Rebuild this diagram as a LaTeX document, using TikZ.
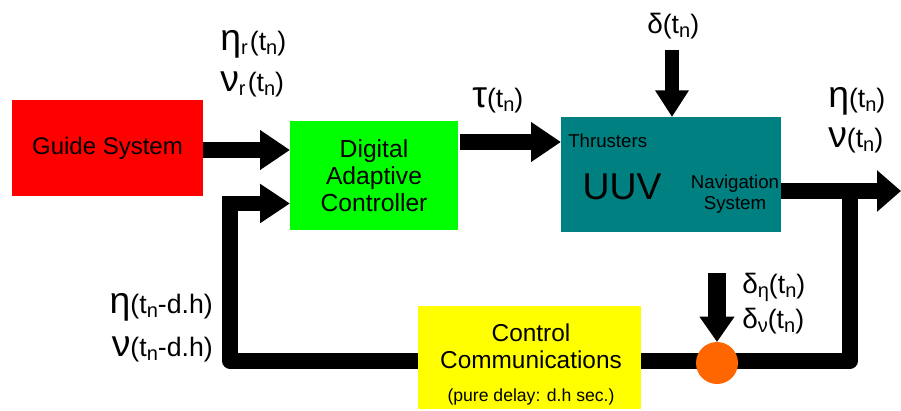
\documentclass[tikz,border=0pt]{standalone}
\usepackage{fontspec}
\setmainfont{Liberation Sans}
\usetikzlibrary{arrows.meta}
\definecolor{boxred}{HTML}{FF0000}
\definecolor{boxgreen}{HTML}{00FF00}
\definecolor{boxteal}{HTML}{008080}
\definecolor{boxyellow}{HTML}{FFFF00}
\definecolor{sumorange}{HTML}{FF6600}
\newcommand\glk[1]{{\fontsize{28}{28}\selectfont #1}}
\newcommand\dlt[1]{{\fontsize{21}{21}\selectfont #1}}
\newcommand\lsub[1]{\raisebox{-3.5pt}{\fontsize{15}{15}\selectfont #1}}
\newcommand\lbl[1]{{\fontsize{20}{20}\selectfont #1}}
\begin{document}
\begin{tikzpicture}[x=0.75pt,y=-0.75pt,
  blk/.style={inner sep=0pt, outer sep=0pt},
  arr/.style={line width=12pt, -{Triangle[length=22.5pt,width=28.5pt]}},
  darr/.style={line width=10pt, -{Triangle[length=20pt,width=24pt]}},
  fb/.style={line width=11.5pt, line join=round},
  fbarr/.style={line width=11.5pt, line cap=rect, -{Triangle[length=22.5pt,width=28pt]}},
  lab/.style={inner sep=0pt}
]
\useasboundingbox (0,0) rectangle (901,411);
% boxes
\node[blk, fill=boxred, minimum width=143.25pt, minimum height=72pt] (guide) at (107.5,148) {\fontsize{18}{18}\selectfont Guide System};
\node[blk, fill=boxgreen, minimum width=126pt, minimum height=81.75pt, align=center, font=\fontsize{18.5}{20.3}\selectfont] (dac) at (374,175.5) {Digital\\Adaptive\\Controller};
\node[blk, fill=boxteal, minimum width=165pt, minimum height=86.25pt] (uuv) at (671,174.5) {};
\node[blk, fill=boxyellow, minimum width=167.25pt, minimum height=77.25pt] (cc) at (529.5,357.5) {};
% texts inside UUV
\node[lab, anchor=west, font=\fontsize{14}{14}\selectfont] (thr) at (568,141) {Thrusters};
\node[lab, font=\fontsize{28}{28}\selectfont] (uuvt) at (622,187) {UUV};
\node[lab, align=center, font=\fontsize{14}{15.75}\selectfont] (nav) at (735,194.5) {Navigation\\System};
% texts inside control communications
\node[lab, align=center, font=\fontsize{18.3}{20.3}\selectfont] (cct) at (531,346.5) {Control\\Communications};
\node[lab, font=\fontsize{13.2}{13.2}\selectfont] (ccd) at (531,397) {(pure delay: d.h sec.)};
% coordinates
\coordinate (tauS) at (460,142);
\coordinate (dS) at (672,50);
\coordinate (outE) at (901,191);
\coordinate (j1) at (850,191);
\coordinate (c2) at (230,203.5);
\coordinate (dnS) at (717,273);
% feedback path
\draw[fb] (j1) |- (717,361) coordinate (fbr) -- (cc.east |- fbr);
\draw[fb] (cc.west |- fbr) -| (c2);
\draw[fbarr] (c2) -- (dac.west |- c2);
% main arrows
\draw[arr] (guide.east |- 0,150) -- (dac.west |- 0,150);
\draw[arr] (tauS) -- (uuv.west |- tauS);
\draw[arr, -{Triangle[length=18pt,width=30pt]}] (uuv.east |- outE) -- (outE);
\draw[darr] (dS) -- (uuv.north -| dS);
% summing point
\node[blk, circle, fill=sumorange, minimum size=31.5pt] (sum) at (717,363) {};
\draw[line width=13pt, -{Triangle[length=19pt,width=25pt]}] (dnS) -- (sum.north);
% labels
\node[lab, anchor=base west] (l1) at (220,50) {\glk{η}\lsub{r}\,\lbl{(t\lsub{n})}};
\node[lab, anchor=base west] (l2) at (220,91) {\glk{ν}\lsub{r}\,\lbl{(t\lsub{n})}};
\node[lab, anchor=base west] (l3) at (472,107) {\glk{τ}\lbl{(t\lsub{n})}};
\node[lab, anchor=base west] (l4) at (647,33) {\dlt{δ}\lbl{(t\lsub{n})}};
\node[lab, anchor=base west] (l5) at (828,107) {\glk{η}\lbl{(t\lsub{n})}};
\node[lab, anchor=base west] (l6) at (828,147) {\glk{ν}\lbl{(t\lsub{n})}};
\node[lab, anchor=base east] (l7) at (213,313) {\glk{η}\lbl{(t\lsub{n}-d.h)}};
\node[lab, anchor=base east] (l8) at (213,356) {\glk{ν}\lbl{(t\lsub{n}-d.h)}};
\node[lab, anchor=base west] (l9) at (742,293) {\dlt{δ}\lsub{η}\lbl{(t\lsub{n})}};
\node[lab, anchor=base west] (l10) at (742,328) {\dlt{δ}\lsub{ν}\lbl{(t\lsub{n})}};
\end{tikzpicture}
\end{document}
